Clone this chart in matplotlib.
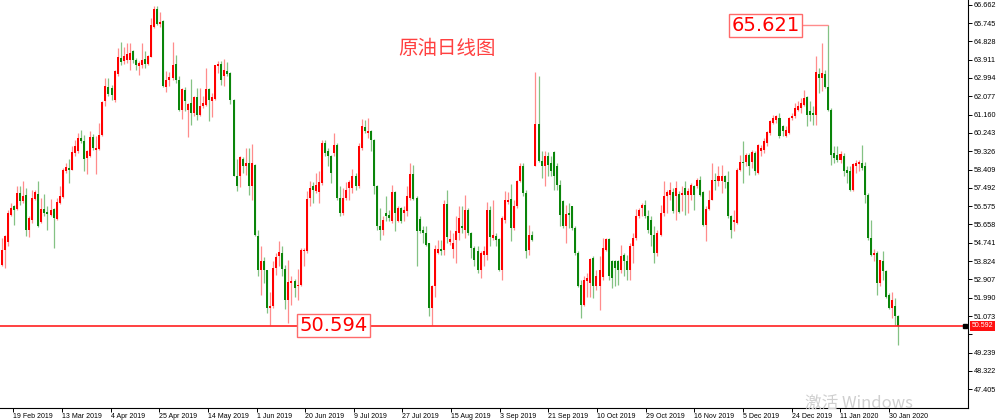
import numpy as np
import matplotlib
matplotlib.use("Agg")
import matplotlib.pyplot as plt
from matplotlib.transforms import blended_transform_factory

plt.rcParams.update({"font.family": ["DejaVu Sans"], "axes.linewidth": 0.8})

# daily candles (late Jan 2019 -> early Feb 2020)
opens = [
    53.64, 54.39, 54.80, 56.14, 56.60, 56.43, 57.23, 56.81, 57.15, 55.39,
    55.89, 56.95, 57.20, 55.76, 56.43, 56.26, 56.14, 56.43, 55.94, 56.73,
    57.03, 58.31, 58.48, 58.40, 59.23, 59.32, 59.98, 59.82, 58.98, 59.07,
    60.02, 59.40, 59.45, 60.15, 61.82, 62.54, 62.49, 61.90, 63.20, 63.99,
    63.82, 63.91, 63.91, 64.32, 63.91, 63.61, 63.66, 63.94, 63.71, 64.04,
    65.57, 66.44, 65.71, 65.86, 62.54, 62.90, 62.99, 63.69, 62.90, 61.40,
    62.37, 61.37, 61.74, 61.24, 62.04, 61.15, 61.57, 61.65, 62.44, 61.82,
    61.95, 63.61, 63.71, 63.07, 63.35, 63.24, 61.90, 58.10, 58.10, 58.93,
    58.56, 58.73, 57.56, 58.65, 55.09, 53.36, 53.81, 53.36, 51.47, 51.55,
    53.47, 54.06, 54.22, 53.42, 51.89, 52.72, 52.81, 52.56, 52.61, 54.31,
    54.31, 56.98, 57.56, 57.31, 57.26, 57.73, 59.73, 59.32, 59.07, 59.23,
    59.65, 56.98, 56.23, 56.98, 57.48, 57.48, 58.06, 57.56, 59.48, 60.53,
    60.23, 60.35, 59.90, 57.56, 55.59, 55.39, 56.23, 56.14, 55.81, 57.26,
    55.81, 56.48, 56.23, 56.31, 56.98, 58.20, 56.98, 55.93, 55.39, 55.23,
    54.72, 51.47, 52.56, 54.22, 54.42, 54.39, 56.70, 54.76, 54.42, 54.89,
    55.23, 55.56, 55.39, 56.40, 55.23, 54.47, 54.31, 53.39, 54.14, 54.14,
    56.36, 54.98, 55.06, 54.93, 53.39, 55.89, 56.76, 56.93, 55.47, 56.56,
    57.81, 58.56, 57.23, 54.36, 55.14, 58.60, 60.68, 58.85, 58.56, 59.07,
    58.73, 59.27, 58.56, 57.65, 56.81, 55.56, 56.23, 56.56, 55.47, 54.22,
    52.64, 51.64, 52.81, 52.72, 53.97, 52.56, 52.56, 53.02, 54.39, 54.93,
    53.81, 53.81, 53.81, 53.39, 54.14, 53.81, 53.39, 54.56, 54.98, 56.06,
    56.48, 56.65, 56.09, 55.89, 55.14, 54.22, 55.14, 56.23, 57.06, 57.15,
    57.26, 57.06, 57.20, 57.15, 57.48, 57.15, 57.15, 57.60, 57.56, 57.86,
    57.26, 55.64, 56.43, 56.90, 57.90, 57.81, 57.81, 58.06, 57.76, 56.06,
    55.76, 55.73, 58.40, 58.81, 58.78, 59.15, 58.81, 59.23, 58.23, 59.32,
    59.40, 59.73, 60.23, 60.73, 60.90, 60.98, 60.57, 60.07, 60.23, 60.98,
    61.07, 61.40, 61.49, 61.65, 62.04, 61.32, 61.24, 61.15, 63.20, 62.99,
    63.20, 62.54, 61.40, 59.23, 59.15, 58.90, 59.07, 58.40, 58.31, 57.40,
    58.56, 58.70, 58.73, 58.56, 57.15, 54.98, 54.14, 54.22, 52.72, 53.81,
    53.31, 52.14, 51.47, 51.59, 51.05,
]
highs = [
    54.98, 55.14, 56.40, 56.73, 56.65, 57.60, 57.56, 57.81, 57.48, 56.06,
    57.40, 57.40, 57.85, 56.98, 57.18, 56.56, 56.95, 56.48, 56.98, 57.56,
    58.48, 58.73, 58.93, 59.57, 59.90, 60.23, 60.40, 60.15, 59.40, 60.32,
    60.18, 60.07, 60.73, 61.82, 62.99, 62.99, 62.65, 63.41, 64.49, 64.77,
    64.54, 64.74, 64.74, 64.41, 63.99, 63.82, 64.74, 64.32, 64.16, 65.99,
    66.58, 66.61, 66.28, 65.91, 63.32, 63.27, 64.77, 64.16, 63.07, 62.49,
    62.54, 61.74, 62.94, 62.07, 62.49, 62.49, 62.07, 63.49, 62.49, 62.24,
    63.66, 63.82, 63.82, 63.94, 63.77, 63.27, 61.94, 58.93, 59.10, 59.03,
    59.48, 59.48, 59.68, 58.70, 55.39, 54.59, 54.02, 53.39, 52.26, 53.81,
    54.22, 54.81, 54.56, 53.64, 53.89, 53.06, 52.92, 53.42, 54.47, 54.47,
    57.31, 57.81, 57.76, 58.23, 58.31, 59.90, 59.90, 59.48, 59.15, 60.23,
    59.73, 57.56, 57.48, 57.76, 57.90, 58.43, 58.23, 59.73, 60.93, 60.87,
    60.98, 60.40, 59.93, 57.65, 56.48, 56.06, 57.06, 56.40, 57.65, 57.31,
    56.56, 56.53, 56.60, 57.56, 58.76, 58.65, 57.06, 56.09, 55.56, 55.59,
    54.72, 52.64, 54.64, 54.89, 54.89, 56.90, 57.40, 55.39, 55.23, 56.06,
    56.56, 56.60, 57.15, 56.48, 55.26, 54.56, 54.56, 54.31, 54.56, 56.76,
    56.56, 56.90, 55.23, 54.98, 56.06, 57.31, 57.26, 57.70, 56.90, 57.90,
    58.73, 58.73, 57.40, 55.64, 55.31, 63.27, 63.10, 59.32, 59.32, 59.27,
    59.07, 59.32, 58.73, 57.90, 56.90, 56.65, 56.73, 56.60, 55.56, 54.31,
    52.89, 53.06, 53.22, 53.97, 54.06, 53.39, 54.06, 54.98, 54.98, 54.98,
    53.89, 53.89, 53.89, 54.64, 54.22, 54.14, 54.72, 55.23, 56.43, 56.48,
    56.73, 56.90, 56.40, 56.06, 55.56, 55.39, 56.65, 57.81, 57.40, 57.76,
    57.48, 57.81, 57.31, 57.56, 57.81, 57.48, 57.73, 57.65, 57.98, 58.06,
    57.31, 56.56, 57.40, 58.73, 58.23, 58.56, 58.65, 58.15, 58.31, 56.14,
    56.40, 58.48, 59.15, 59.82, 59.23, 59.23, 59.40, 59.32, 59.70, 59.65,
    59.98, 60.32, 60.90, 61.15, 61.15, 61.24, 60.65, 60.57, 61.03, 61.24,
    61.74, 61.82, 61.99, 62.37, 62.07, 61.82, 61.57, 64.07, 63.49, 64.74,
    63.41, 65.621, 61.49, 59.57, 59.57, 59.32, 59.23, 58.56, 58.56, 58.76,
    58.90, 58.90, 59.65, 58.81, 57.23, 55.89, 54.42, 54.31, 53.89, 54.31,
    53.36, 52.22, 52.26, 51.97, 51.13,
]
lows = [
    53.56, 53.48, 54.56, 56.06, 55.64, 56.40, 56.65, 56.73, 55.06, 55.03,
    55.73, 56.90, 55.53, 55.73, 56.06, 55.39, 56.06, 54.47, 55.89, 56.70,
    56.98, 58.23, 57.73, 58.36, 59.07, 59.23, 59.73, 58.31, 58.20, 59.03,
    59.40, 58.20, 59.40, 60.07, 61.57, 62.07, 61.90, 61.77, 63.10, 63.66,
    63.69, 63.74, 63.37, 63.74, 63.41, 63.15, 63.49, 63.49, 63.66, 64.04,
    65.49, 65.66, 65.57, 62.54, 62.27, 62.60, 62.90, 62.74, 61.32, 60.93,
    61.32, 60.03, 60.65, 61.07, 60.90, 61.07, 61.49, 61.60, 60.82, 61.03,
    61.90, 63.24, 62.65, 62.60, 63.07, 61.70, 58.06, 57.31, 57.53, 58.23,
    58.15, 57.15, 56.90, 55.06, 53.06, 52.14, 52.72, 51.22, 50.64, 51.47,
    53.14, 53.56, 53.06, 51.42, 50.72, 51.64, 52.05, 51.89, 52.56, 53.56,
    54.22, 56.56, 56.73, 57.23, 56.73, 57.65, 59.07, 58.56, 57.73, 59.07,
    56.90, 56.06, 56.14, 56.90, 56.90, 57.23, 57.40, 57.48, 59.40, 60.23,
    59.98, 59.32, 57.20, 55.39, 54.89, 55.14, 55.81, 55.81, 55.73, 55.31,
    55.76, 55.73, 55.81, 56.06, 56.90, 56.90, 53.56, 55.23, 54.72, 54.56,
    51.09, 50.60, 52.05, 54.18, 54.14, 54.14, 54.72, 54.64, 53.97, 53.72,
    54.89, 55.23, 54.98, 55.14, 53.97, 53.56, 53.22, 52.97, 53.56, 53.89,
    54.56, 54.89, 54.56, 53.35, 52.89, 55.73, 56.70, 54.81, 55.39, 56.48,
    57.76, 57.06, 53.97, 54.14, 54.81, 58.56, 58.81, 57.98, 57.56, 58.06,
    58.06, 57.40, 57.40, 55.56, 55.47, 54.72, 55.47, 55.39, 54.14, 52.52,
    50.97, 51.55, 52.05, 52.05, 51.97, 52.39, 51.39, 52.89, 54.35, 52.89,
    52.47, 52.56, 52.64, 53.22, 53.06, 52.89, 52.89, 53.72, 54.89, 55.98,
    56.06, 55.98, 55.23, 54.56, 53.72, 54.06, 55.06, 56.10, 56.23, 56.90,
    56.23, 55.89, 56.23, 56.31, 56.14, 56.23, 56.90, 56.40, 57.48, 57.06,
    55.56, 54.81, 56.40, 56.86, 57.40, 57.56, 57.23, 57.48, 55.98, 54.98,
    55.31, 55.69, 58.31, 57.73, 58.56, 58.15, 58.48, 58.15, 58.20, 59.07,
    59.23, 59.57, 60.15, 60.70, 60.73, 59.98, 60.07, 60.03, 60.20, 60.90,
    60.98, 61.32, 61.24, 61.57, 60.57, 60.82, 60.65, 60.65, 62.24, 62.32,
    62.49, 61.32, 58.65, 58.73, 58.81, 58.73, 58.06, 57.73, 57.31, 57.31,
    58.23, 58.31, 58.40, 56.73, 54.89, 54.06, 53.81, 52.14, 52.56, 52.89,
    51.97, 51.42, 50.97, 50.64, 49.63,
]
closes = [
    54.39, 55.06, 56.23, 56.48, 56.36, 57.23, 56.81, 57.10, 55.39, 55.98,
    56.98, 57.26, 55.56, 56.43, 56.23, 56.18, 56.40, 55.98, 56.76, 57.06,
    58.36, 58.51, 58.36, 59.28, 59.57, 59.98, 59.82, 58.93, 59.35, 60.02,
    59.48, 59.48, 60.15, 61.77, 62.57, 62.19, 62.15, 63.32, 64.02, 63.77,
    64.11, 64.21, 64.24, 63.87, 63.66, 63.74, 63.91, 63.71, 64.07, 65.66,
    66.44, 65.71, 65.82, 62.60, 62.90, 63.04, 63.66, 62.90, 61.37, 62.44,
    61.82, 61.70, 61.24, 62.04, 61.15, 61.57, 61.74, 62.44, 61.87, 62.04,
    63.62, 63.69, 62.90, 63.37, 63.20, 61.87, 58.10, 57.56, 59.02, 58.56,
    58.73, 57.56, 58.73, 55.14, 53.39, 53.81, 53.36, 51.47, 51.55, 53.47,
    54.02, 54.26, 53.42, 51.89, 52.76, 52.85, 52.47, 52.61, 54.39, 54.39,
    56.93, 57.48, 57.36, 57.65, 57.76, 59.73, 59.23, 59.07, 58.23, 59.65,
    56.98, 56.23, 56.98, 57.40, 57.76, 58.06, 57.56, 59.57, 60.57, 60.32,
    60.32, 59.90, 57.56, 55.56, 55.39, 55.89, 56.09, 55.98, 57.26, 56.23,
    56.48, 55.81, 56.36, 57.06, 58.20, 56.95, 55.31, 55.31, 55.23, 54.64,
    51.47, 52.56, 54.42, 54.42, 54.31, 56.70, 55.03, 54.93, 54.72, 55.31,
    55.98, 55.47, 56.40, 55.23, 54.47, 53.89, 53.39, 54.22, 54.31, 56.36,
    55.03, 55.14, 54.89, 53.39, 55.98, 56.90, 56.90, 55.47, 56.56, 57.81,
    58.56, 57.23, 54.31, 55.14, 54.89, 60.68, 58.85, 58.56, 59.07, 58.65,
    58.31, 58.10, 57.65, 56.14, 55.56, 56.18, 56.14, 55.47, 54.22, 52.56,
    51.64, 52.89, 52.97, 53.92, 52.59, 53.06, 53.39, 54.47, 54.93, 53.06,
    52.97, 53.47, 53.39, 54.06, 53.81, 53.39, 54.56, 54.98, 56.06, 56.40,
    56.65, 56.06, 55.39, 55.14, 54.22, 55.23, 56.23, 57.06, 57.26, 57.36,
    56.31, 57.48, 56.29, 57.23, 57.15, 57.31, 57.65, 57.15, 57.90, 57.15,
    55.64, 56.43, 56.90, 57.90, 57.81, 58.06, 58.06, 57.76, 56.06, 55.39,
    55.89, 58.40, 58.81, 58.73, 59.15, 58.56, 59.27, 58.31, 59.65, 59.48,
    59.82, 60.27, 60.82, 60.98, 61.07, 60.07, 60.32, 60.40, 60.98, 61.10,
    61.49, 61.60, 61.74, 61.99, 61.15, 61.15, 61.15, 63.27, 62.99, 63.24,
    62.54, 61.40, 59.15, 58.98, 58.90, 59.20, 58.31, 58.23, 57.40, 58.70,
    58.76, 58.78, 58.48, 57.15, 54.98, 54.14, 54.22, 52.72, 53.86, 53.31,
    52.05, 51.47, 51.89, 51.05, 50.592,
]

date_labels = ["19 Feb 2019", "13 Mar 2019", "4 Apr 2019", "25 Apr 2019",
               "14 May 2019", "1 Jun 2019", "20 Jun 2019", "9 Jul 2019",
               "27 Jul 2019", "15 Aug 2019", "3 Sep 2019", "21 Sep 2019",
               "10 Oct 2019", "29 Oct 2019", "16 Nov 2019", "5 Dec 2019",
               "24 Dec 2019", "11 Jan 2020", "30 Jan 2020"]
price_ticks = [47.405, 48.322, 49.239, 50.156, 51.073, 51.990, 52.907, 53.824,
               54.741, 55.658, 56.575, 57.492, 58.409, 59.326, 60.243, 61.160,
               62.077, 62.994, 63.911, 64.828, 65.745, 66.662]
support_level = 50.594
peak_level = 65.621      # the labelled January 2020 high
last_price = 50.592
chart_title = "原油日线图"

UP, DOWN = "#ff0000", "#0a850a"
UP_WICK, DOWN_WICK = "#ff8c8c", "#84c284"
CJK = ["Noto Sans CJK SC", "DejaVu Sans"]

o, h, l, c = (np.array(v) for v in (opens, highs, lows, closes))
x = np.arange(len(o))
up = c >= o

fig = plt.figure(figsize=(10, 4.2), dpi=100)
ax = fig.add_axes([0, 12 / 420, 0.968, 408 / 420])

# wicks then bodies
ax.vlines(x[up], l[up], h[up], color=UP_WICK, lw=0.9, zorder=2)
ax.vlines(x[~up], l[~up], h[~up], color=DOWN_WICK, lw=0.9, zorder=2)
ax.bar(x, np.maximum(np.abs(c - o), 0.05), bottom=np.minimum(o, c), width=0.66,
       color=np.where(up, UP, DOWN), linewidth=0, zorder=3)

ax.set_xlim(-0.56, 316.8)
ax.set_ylim(46.467, 66.897)

# axes look of the trading terminal
for s in ("left", "top"):
    ax.spines[s].set_visible(False)
ax.yaxis.tick_right()
ax.set_yticks(price_ticks)
ax.set_yticklabels(["" if abs(p - 50.156) < 1e-6 else f"{p:.3f}" for p in price_ticks])
ax.set_xticks(3.8 + 15.95 * np.arange(len(date_labels)))
ax.set_xticklabels(date_labels)
for t in ax.get_xticklabels():
    t.set_horizontalalignment("left")
ax.tick_params(axis="x", length=3, width=0.7, pad=0.5, labelsize=5,
               labelfontfamily="Liberation Sans")
ax.tick_params(axis="y", length=3, width=0.7, pad=1, labelsize=5.2,
               labelfontfamily="Liberation Sans")

# horizontal support line and its label
ax.axhline(support_level, color="#ff2020", lw=1.2, zorder=4)
ax.text(108.7, support_level, f"{support_level:.3f}", fontsize=14, color="#ff0000",
        ha="center", va="center", zorder=6,
        bbox=dict(boxstyle="square,pad=0.12", fc="white", ec="#ff6a6a", lw=1))

# peak label connected to the high
pk = int(np.argmin(np.abs(h - peak_level)))
ax.annotate(f"{peak_level:.3f}", xy=(pk, peak_level), xytext=(250.4, peak_level),
            fontsize=14, color="#ff0000", ha="center", va="center", zorder=6,
            bbox=dict(boxstyle="square,pad=0.12", fc="white", ec="#ff6a6a", lw=1),
            arrowprops=dict(arrowstyle="-", color="#ff8c8c", lw=1,
                            shrinkA=0, shrinkB=0))

# current price tag on the price scale
tr = blended_transform_factory(ax.transAxes, ax.transData)
ax.plot([0.997], [last_price], marker="s", ms=3.5, color="black",
        transform=tr, clip_on=False, zorder=7)
ax.text(1.004, last_price, f"{last_price:.3f}", transform=tr, fontsize=5,
        family="Liberation Sans", color="white", ha="left", va="center",
        bbox=dict(boxstyle="square,pad=0.2", fc="#ff1010", ec="none"), clip_on=False)

ax.text(0.462, 0.882, chart_title, transform=ax.transAxes, fontsize=14,
        color="#ff4040", ha="center", va="center", family=CJK)

fig.text(0.805, 1 - 404 / 420, "激活 Windows", fontsize=12, color="#cfcfcf",
         ha="left", va="center", family=CJK, zorder=10)

fig.savefig("out.png", dpi=100)
